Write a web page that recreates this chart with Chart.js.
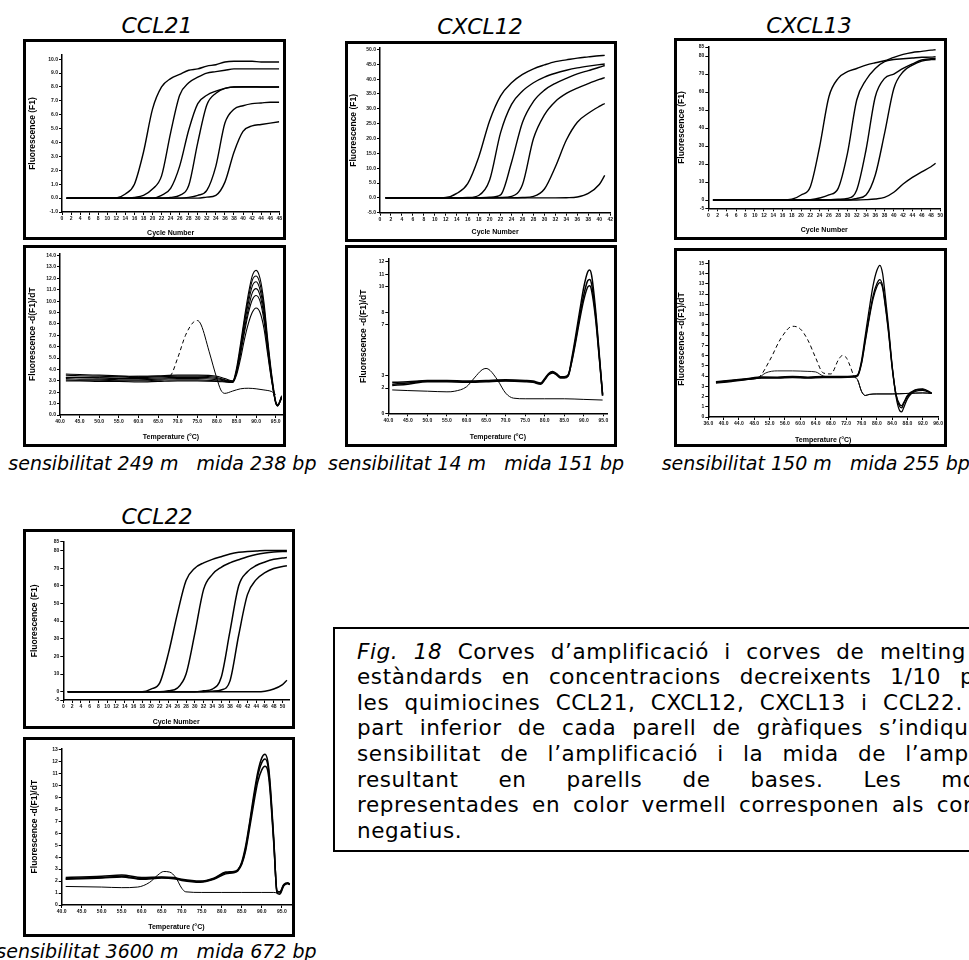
<!DOCTYPE html>
<html><head><meta charset="utf-8">
<script src="https://cdn.jsdelivr.net/npm/chart.js@4.4.1/dist/chart.umd.min.js"></script>
<style>
html,body{margin:0;padding:0;background:#fff;}
body{width:969px;height:960px;overflow:hidden;position:relative;font-family:"DejaVu Sans",Verdana,sans-serif;color:#000;}
.box{position:absolute;border:3px solid #000;box-sizing:border-box;background:#fff;}
.box canvas{display:block;}
.gene{position:absolute;font-style:italic;font-size:22px;line-height:1;white-space:nowrap;transform:translateX(-50%);}
.cap{position:absolute;font-style:italic;font-size:19px;line-height:1;white-space:pre;}
.note{position:absolute;left:333px;top:627px;width:700px;height:225px;border:2px solid #000;box-sizing:border-box;}
.ln{position:absolute;left:22px;font-size:21.5px;line-height:1;white-space:nowrap;letter-spacing:0.6px;}
</style></head>
<body>
<div class="gene" style="left:157px;top:15.4px">CCL21</div>
<div class="gene" style="left:480px;top:15.7px">CXCL12</div>
<div class="gene" style="left:809px;top:15.4px">CXCL13</div>
<div class="gene" style="left:157px;top:506.4px">CCL22</div>
<div class="cap" style="left:8.3px;top:453.9px">sensibilitat 249 m   mida 238 bp</div>
<div class="cap" style="left:328px;top:453.9px">sensibilitat 14 m   mida 151 bp</div>
<div class="cap" style="left:661.7px;top:453.9px">sensibilitat 150 m   mida 255 bp</div>
<div class="cap" style="left:-3.7px;top:941.9px">sensibilitat 3600 m   mida 672 bp</div>
<div class="note">
<div class="ln" style="top:11.5px;word-spacing:8px"><i>Fig. 18</i> Corves d’amplificació i corves de melting dels</div>
<div class="ln" style="top:37.1px;word-spacing:11.6px">estàndards en concentracions decreixents 1/10 per a</div>
<div class="ln" style="top:62.7px;word-spacing:7.9px">les quimiocines CCL21, CXCL12, CXCL13 i CCL22. A la</div>
<div class="ln" style="top:88.3px;word-spacing:8.7px">part inferior de cada parell de gràfiques s’indiquen la</div>
<div class="ln" style="top:113.9px;word-spacing:11.8px">sensibilitat de l’amplificació i la mida de l’amplicó</div>
<div class="ln" style="top:139.5px;word-spacing:32.6px">resultant en parells de bases. Les mostres</div>
<div class="ln" style="top:165.1px;word-spacing:5.3px">representades en color vermell corresponen als controls</div>
<div class="ln" style="top:190.7px">negatius.</div>
</div>
<script>
// ---------- CCL21 ----------
const ccl21AmpCycles = [1, 6, 10, 12, 14, 16, 18, 20, 22, 24, 26, 28, 30, 32, 34, 36, 38, 40, 42, 44, 46, 48];
const ccl21Amp1 = [0, 0, 0, 0.02, 0.3, 1.0, 3.3, 6.4, 8.0, 8.6, 8.9, 9.2, 9.3, 9.5, 9.6, 9.8, 9.85, 9.85, 9.85, 9.8, 9.8, 9.8];
const ccl21Amp2 = [0, 0, 0, 0, 0, 0.05, 0.2, 0.65, 1.6, 4.7, 7.4, 8.3, 8.7, 9.0, 9.1, 9.2, 9.3, 9.3, 9.3, 9.3, 9.3, 9.3];
const ccl21Amp3 = [0, 0, 0, 0, 0, 0, 0, 0, 0.2, 0.7, 2.3, 4.9, 6.8, 7.4, 7.7, 7.9, 8.0, 8.0, 8.0, 8.0, 8.0, 8.0];
const ccl21Amp4 = [0, 0, 0, 0, 0, 0, 0, 0, 0, 0.05, 0.2, 0.9, 4.0, 6.7, 7.55, 7.9, 8.0, 8.02, 8.02, 8.0, 8.0, 8.0];
const ccl21Amp5 = [0, 0, 0, 0, 0, 0, 0, 0, 0, 0, 0, 0.05, 0.2, 0.55, 2.3, 5.4, 6.4, 6.65, 6.8, 6.85, 6.9, 6.9];
const ccl21Amp6 = [0, 0, 0, 0, 0, 0, 0, 0, 0, 0, 0, 0, 0, 0.07, 0.2, 1.15, 3.3, 4.8, 5.2, 5.3, 5.4, 5.5];
const ccl21AmpXTicks = [0, 2, 4, 6, 8, 10, 12, 14, 16, 18, 20, 22, 24, 26, 28, 30, 32, 34, 36, 38, 40, 42, 44, 46, 48];
const ccl21AmpYTicks = [-1, 0, 1, 2, 3, 4, 5, 6, 7, 8, 9, 10];

const ccl21MeltTemps = [41.5, 45, 50, 55, 60, 65, 70, 75, 80, 82, 84, 85, 86, 87, 88, 89, 90, 91, 92, 93, 94, 95, 95.5, 96.5];
const ccl21Melt1 = [3.5, 3.45, 3.4, 3.35, 3.3, 3.35, 3.4, 3.4, 3.3, 3.1, 2.95, 4.1, 6.2, 8.5, 10.6, 12.2, 12.7, 12.0, 9.9, 6.5, 3.5, 1.2, 0.9, 1.7];
const ccl21Melt2 = [3.3, 3.3, 3.25, 3.2, 3.2, 3.25, 3.3, 3.3, 3.2, 3.05, 2.9, 3.9, 5.9, 8.2, 10.2, 11.8, 12.2, 11.5, 9.5, 6.2, 3.3, 1.1, 0.85, 1.6];
const ccl21Melt3 = [3.2, 3.15, 3.15, 3.1, 3.1, 3.15, 3.2, 3.2, 3.1, 3.0, 2.9, 3.8, 5.7, 7.9, 9.8, 11.3, 11.7, 11.0, 9.1, 6.0, 3.2, 1.1, 0.8, 1.5];
const ccl21Melt4 = [3.1, 3.05, 3.05, 3.0, 3.0, 3.05, 3.1, 3.1, 3.0, 2.95, 2.85, 3.7, 5.5, 7.5, 9.3, 10.7, 11.1, 10.5, 8.7, 5.8, 3.1, 1.0, 0.8, 1.5];
const ccl21Melt5 = [3.6, 3.55, 3.5, 3.45, 3.4, 3.45, 3.5, 3.5, 3.4, 3.2, 3.0, 3.7, 5.3, 7.2, 8.9, 10.1, 10.5, 10.0, 8.3, 5.5, 3.0, 1.1, 0.85, 1.6];
const ccl21Melt6 = [3.0, 3.0, 2.95, 2.95, 2.9, 2.95, 3.0, 3.0, 2.95, 2.9, 2.85, 3.5, 4.9, 6.6, 8.0, 9.0, 9.4, 9.0, 7.6, 5.2, 2.9, 1.1, 0.8, 1.5];
const ccl21MeltNegTemps = [41.5, 45, 50, 55, 60, 65, 68, 70, 72, 74, 75, 76, 78, 80, 81, 82, 84, 86, 88, 90, 92, 94, 95];
const ccl21MeltNeg = [3.3, 3.3, 3.3, 3.35, 3.4, 3.4, 3.45, 5.0, 7.0, 8.15, 8.3, 7.9, 5.6, 3.2, 2.2, 1.9, 2.1, 2.3, 2.35, 2.3, 2.2, 2.05, 1.8];
const ccl21MeltXTicks = [40, 45, 50, 55, 60, 65, 70, 75, 80, 85, 90, 95];
const ccl21MeltYTicks = [0, 1, 2, 3, 4, 5, 6, 7, 8, 9, 10, 11, 12, 13, 14];

// ---------- CXCL12 ----------
const cxcl12AmpCycles = [1, 6, 10, 12, 14, 16, 18, 20, 22, 24, 26, 28, 30, 32, 34, 36, 38, 40, 41];
const cxcl12Amp1 = [0, 0, 0, 0.1, 1.5, 4.8, 13.7, 26.0, 34.4, 38.8, 41.6, 43.5, 44.8, 45.9, 46.5, 47.1, 47.5, 47.9, 48.0];
const cxcl12Amp2 = [0, 0, 0, 0, 0, 0.1, 0.8, 6.0, 22.0, 31.5, 36.0, 38.8, 40.7, 42.0, 43.0, 43.8, 44.4, 44.9, 45.1];
const cxcl12Amp3 = [0, 0, 0, 0, 0, 0, 0.05, 0.2, 1.0, 12.0, 25.5, 32.5, 36.3, 38.6, 40.3, 41.8, 42.9, 44.0, 44.6];
const cxcl12Amp4 = [0, 0, 0, 0, 0, 0, 0, 0, 0.1, 0.5, 4.5, 20.0, 28.0, 32.5, 35.2, 37.0, 38.5, 39.9, 40.5];
const cxcl12Amp5 = [0, 0, 0, 0, 0, 0, 0, 0, 0, 0, 0.1, 0.5, 3.0, 10.5, 19.5, 25.5, 28.5, 30.8, 31.8];
const cxcl12Amp6 = [0, 0, 0, 0, 0, 0, 0, 0, 0, 0, 0, 0, 0, 0, 0.05, 0.3, 1.5, 4.5, 7.6];
const cxcl12AmpXTicks = [0, 2, 4, 6, 8, 10, 12, 14, 16, 18, 20, 22, 24, 26, 28, 30, 32, 34, 36, 38, 40, 42];
const cxcl12AmpYTicks = [-5, 0, 5, 10, 15, 20, 25, 30, 35, 40, 45, 50];

const cxcl12MeltTemps = [41, 45, 50, 55, 60, 65, 70, 75, 77, 79, 80, 81, 82, 83, 84, 85, 86, 87, 88, 89, 90, 91, 91.5, 92, 93, 94, 94.8];
const cxcl12Melt1 = [2.3, 2.4, 2.55, 2.55, 2.5, 2.55, 2.6, 2.55, 2.5, 2.35, 2.7, 3.1, 3.25, 3.1, 2.85, 2.85, 3.0, 4.5, 6.3, 8.2, 10.0, 11.2, 11.35, 10.9, 8.2, 4.5, 1.4];
const cxcl12Melt2 = [2.2, 2.3, 2.5, 2.5, 2.45, 2.5, 2.55, 2.5, 2.45, 2.3, 2.65, 3.05, 3.2, 3.05, 2.8, 2.8, 2.95, 4.3, 6.0, 7.8, 9.4, 10.5, 10.6, 10.2, 7.8, 4.3, 1.4];
const cxcl12Melt3 = [2.45, 2.5, 2.6, 2.6, 2.55, 2.6, 2.65, 2.6, 2.55, 2.4, 2.75, 3.15, 3.3, 3.15, 2.9, 2.9, 3.05, 4.2, 5.8, 7.5, 9.0, 10.0, 10.1, 9.7, 7.5, 4.2, 1.5];
const cxcl12MeltNegTemps = [41, 45, 50, 55, 57, 60, 62, 64, 65, 66, 68, 70, 72, 75, 80, 85, 90, 94.8];
const cxcl12MeltNeg = [1.85, 1.8, 1.75, 1.7, 1.75, 2.1, 2.8, 3.45, 3.55, 3.4, 2.6, 1.6, 1.2, 1.15, 1.15, 1.15, 1.1, 1.05];
const cxcl12MeltXTicks = [40, 45, 50, 55, 60, 65, 70, 75, 80, 85, 90, 95];
const cxcl12MeltYTicks = [0, 2, 3, 7, 8, 10, 11, 12];

// ---------- CXCL13 ----------
const cxcl13AmpCycles = [1, 6, 10, 14, 16, 18, 20, 22, 24, 26, 28, 30, 32, 34, 36, 38, 40, 42, 44, 46, 48, 49];
const cxcl13Amp1 = [0, 0, 0, 0, 0, 0.4, 2.8, 7.4, 29.6, 57.4, 67.6, 71.3, 73.1, 75, 76.3, 77.4, 79.3, 80.9, 82.0, 82.6, 83.3, 83.5];
const cxcl13Amp2 = [0, 0, 0, 0, 0, 0, 0, 0.2, 1.1, 2.8, 6.5, 25.9, 55.6, 66.7, 73.1, 76.9, 78.1, 78.5, 78.9, 79.3, 79.4, 79.6];
const cxcl13Amp3 = [0, 0, 0, 0, 0, 0, 0, 0, 0, 0.1, 0.4, 0.9, 5.6, 27.8, 57.4, 67.6, 70.0, 73.1, 75.6, 77.8, 78.5, 78.7];
const cxcl13Amp4 = [0, 0, 0, 0, 0, 0, 0, 0, 0, 0, 0, 0, 0.9, 2.8, 13.9, 37.0, 62.0, 71.3, 75.0, 77.2, 78.0, 78.1];
const cxcl13Amp5 = [0, 0, 0, 0, 0, 0, 0, 0, 0, 0, 0, 0, 0, 0.2, 0.6, 1.5, 4.3, 8.9, 12.6, 15.7, 18.5, 20.4];
const cxcl13AmpXTicks = [0, 2, 4, 6, 8, 10, 12, 14, 16, 18, 20, 22, 24, 26, 28, 30, 32, 34, 36, 38, 40, 42, 44, 46, 48, 50];
const cxcl13AmpYTicks = [-4.6, 0, 10, 20, 30, 40, 50, 60, 70, 80, 85];

const cxcl13MeltTemps = [38, 42, 46, 50, 54, 58, 62, 66, 70, 74, 75, 76, 77, 78, 79, 80, 80.8, 81.5, 82, 83, 84, 85, 86, 86.5, 87, 88, 90, 92, 94.3];
const cxcl13Melt1 = [3.4, 3.55, 3.7, 3.85, 3.85, 3.9, 3.85, 3.9, 3.9, 3.95, 4.1, 5.5, 8.0, 10.5, 12.8, 14.3, 14.8, 14.0, 12.5, 9.0, 5.0, 2.2, 1.0, 0.9, 1.3, 2.0, 2.6, 2.7, 2.3];
const cxcl13Melt2 = [3.45, 3.6, 3.75, 3.9, 3.9, 3.95, 3.9, 3.95, 3.95, 4.0, 4.1, 5.3, 7.6, 9.8, 11.8, 13.0, 13.4, 12.8, 11.6, 8.6, 4.9, 2.0, 0.6, 0.5, 0.9, 1.8, 2.5, 2.6, 2.3];
const cxcl13Melt3 = [3.3, 3.45, 3.65, 3.8, 3.8, 3.85, 3.8, 3.85, 3.85, 3.9, 4.0, 5.2, 7.4, 9.6, 11.5, 12.7, 13.1, 12.6, 11.4, 8.4, 4.8, 2.2, 1.2, 1.1, 1.4, 2.1, 2.65, 2.75, 2.35];
const cxcl13MeltNeg1Temps = [38, 42, 46, 49, 52, 55, 58, 60, 62, 64, 66, 68, 70, 71, 72, 73, 74, 75, 76, 77, 78, 80, 84, 88, 92, 94.3];
const cxcl13MeltNeg1 = [3.4, 3.55, 3.7, 3.85, 5.5, 7.7, 8.85, 8.6, 7.5, 5.8, 4.3, 4.2, 5.6, 6.0, 5.8, 5.0, 4.0, 3.6, 2.5, 2.1, 2.2, 2.25, 2.25, 2.3, 2.35, 2.3];
const cxcl13MeltNeg2Temps = [38, 46, 49, 51, 54, 58, 62, 64, 66, 68, 72, 74, 75, 76, 77, 78, 80, 84, 88, 92, 94.3];
const cxcl13MeltNeg2 = [3.35, 3.65, 3.8, 4.3, 4.5, 4.5, 4.45, 4.4, 4.0, 3.9, 3.9, 3.95, 3.6, 2.5, 2.1, 2.2, 2.25, 2.25, 2.3, 2.35, 2.3];
const cxcl13MeltXTicks = [36, 40, 44, 48, 52, 56, 60, 64, 68, 72, 76, 80, 84, 88, 92, 96];
const cxcl13MeltYTicks = [0, 1, 2, 3, 4, 5, 6, 7, 8, 9, 10, 11, 12, 13, 14, 15];

// ---------- CCL22 ----------
const ccl22AmpCycles = [1, 6, 10, 14, 18, 20, 22, 24, 26, 28, 30, 32, 34, 36, 38, 40, 42, 44, 46, 48, 50, 51];
const ccl22Amp1 = [0, 0, 0, 0, 0, 1.5, 5, 22, 44, 63, 70, 73, 75, 76.5, 78, 79, 79.5, 79.7, 80, 80, 80, 80];
const ccl22Amp2 = [0, 0, 0, 0, 0, 0, 0, 0.5, 2, 10, 33, 58, 66.5, 70.5, 73, 74.8, 76.5, 77.8, 78.6, 79.1, 79.4, 79.5];
const ccl22Amp3 = [0, 0, 0, 0, 0, 0, 0, 0, 0, 0, 0, 0.5, 1.5, 8, 34, 60, 68, 71.5, 73.5, 75, 75.8, 76];
const ccl22Amp4 = [0, 0, 0, 0, 0, 0, 0, 0, 0, 0, 0, 0, 0.3, 1, 6, 32, 55, 63.5, 67.5, 69.8, 71, 71.4];
const ccl22Amp5 = [0, 0, 0, 0, 0, 0, 0, 0, 0, 0, 0, 0, 0, 0, 0, 0, 0, 0, 0.3, 1.5, 4, 6.5];
const ccl22AmpXTicks = [0, 2, 4, 6, 8, 10, 12, 14, 16, 18, 20, 22, 24, 26, 28, 30, 32, 34, 36, 38, 40, 42, 44, 46, 48, 50];
const ccl22AmpYTicks = [-4.7, 0, 10, 20, 30, 40, 50, 60, 70, 80, 85];

const ccl22MeltTemps = [41, 45, 50, 55, 60, 65, 68, 70, 74.6, 78, 81, 83, 84, 85, 86, 87, 88, 89, 90, 90.8, 91.5, 92, 93, 93.8, 94.5, 95.5, 96.5, 97];
const ccl22Melt1 = [2.2, 2.25, 2.3, 2.4, 2.2, 2.3, 2.25, 2.1, 1.95, 2.2, 2.7, 2.75, 2.9, 3.6, 5.0, 7.0, 9.2, 11.1, 12.3, 12.6, 12.0, 10.5, 5.5, 1.0, 0.9, 1.6, 1.8, 1.7];
const ccl22Melt2 = [2.3, 2.35, 2.4, 2.5, 2.3, 2.35, 2.3, 2.15, 2.0, 2.25, 2.75, 2.8, 2.95, 3.5, 4.8, 6.8, 8.9, 10.8, 11.9, 12.2, 11.7, 10.2, 5.3, 1.1, 1.0, 1.7, 1.85, 1.75];
const ccl22Melt3 = [2.15, 2.2, 2.25, 2.35, 2.15, 2.25, 2.2, 2.05, 1.9, 2.15, 2.6, 2.7, 2.85, 3.4, 4.6, 6.5, 8.5, 10.3, 11.3, 11.6, 11.2, 9.8, 5.1, 1.2, 1.1, 1.7, 1.8, 1.7];
const ccl22MeltNegTemps = [41, 50, 55, 59, 62, 64, 65.5, 67, 68.5, 70, 71, 75, 80, 85, 90, 93, 94];
const ccl22MeltNeg = [1.55, 1.5, 1.45, 1.5, 1.9, 2.5, 2.8, 2.75, 2.3, 1.4, 1.1, 1.05, 1.05, 1.05, 1.05, 1.05, 1.0];
const ccl22MeltXTicks = [40, 45, 50, 55, 60, 65, 70, 75, 80, 85, 90, 95];
const ccl22MeltYTicks = [0, 1, 2, 3, 4, 5, 6, 7, 8, 9, 10, 11, 12, 13];

// ---------- rendering ----------
Chart.defaults.color = '#000';
const pts = (xs, ys) => xs.map((x, i) => ({x: x, y: ys[i]}));
const curve = (xs, ys, w) => ({data: pts(xs, ys), borderWidth: w, borderColor: '#000'});
const dashed = (xs, ys, a, b) => ({
  data: pts(xs, ys), borderWidth: 1, borderColor: '#000',
  segment: {borderDash: c => (c.p0.parsed.x >= a && c.p1.parsed.x <= b) ? [4, 3] : undefined}
});
const AMP_Y = 'Fluorescence (F1)', MELT_Y = 'Fluorescence -d(F1)/dT';
const AMP_X = 'Cycle Number', MELT_X = 'Temperature (\u00B0C)';
const i0 = v => String(Math.round(v));
const f1 = v => v.toFixed(1);

const panels = [
  {box:[23,39,263,201], plot:{l:36,r:256.7,t:13,b:170}, x:[0,48,ccl21AmpXTicks,i0], y:[-1,10.3,ccl21AmpYTicks,f1], xt:AMP_X, yt:AMP_Y, yp:1.9, xp:0,
   sets:[ccl21Amp1,ccl21Amp2,ccl21Amp3,ccl21Amp4,ccl21Amp5,ccl21Amp6].map(s=>curve(ccl21AmpCycles,s,1.4))},
  {box:[23,245,263,202], plot:{l:34,r:256,t:5.3,b:167}, x:[40,96.6,ccl21MeltXTicks,f1], y:[0,14.2,ccl21MeltYTicks,f1], xt:MELT_X, yt:MELT_Y, yp:1.9, xp:2.5,
   sets:[ccl21Melt1,ccl21Melt2,ccl21Melt3,ccl21Melt4,ccl21Melt5,ccl21Melt6].map(s=>curve(ccl21MeltTemps,s,1.1)).concat([dashed(ccl21MeltNegTemps,ccl21MeltNeg,67,75.5)])},
  {box:[345,41,272,201], plot:{l:32,r:263.7,t:2.7,b:168.7}, x:[0,42,cxcl12AmpXTicks,i0], y:[-5,50.5,cxcl12AmpYTicks,f1], xt:AMP_X, yt:AMP_Y, yp:0.2, xp:3,
   sets:[cxcl12Amp1,cxcl12Amp2,cxcl12Amp3,cxcl12Amp4,cxcl12Amp5,cxcl12Amp6].map(s=>curve(cxcl12AmpCycles,s,1.4))},
  {box:[345,245,272,202], plot:{l:40.3,r:259.3,t:11.2,b:165.3}, x:[40,96,cxcl12MeltXTicks,f1], y:[0,12.2,cxcl12MeltYTicks,i0], xt:MELT_X, yt:MELT_Y, yp:10.2, xp:2.8,
   sets:[cxcl12Melt1,cxcl12Melt2,cxcl12Melt3].map(s=>curve(cxcl12MeltTemps,s,1.5)).concat([curve(cxcl12MeltNegTemps,cxcl12MeltNeg,1)])},
  {box:[674,38,273,202], plot:{l:31.3,r:264.7,t:5.7,b:167.3}, x:[0,50,cxcl13AmpXTicks,i0], y:[-4.6,85.2,cxcl13AmpYTicks,i0], xt:AMP_X, yt:AMP_Y, yp:0, xp:2.8,
   sets:[cxcl13Amp1,cxcl13Amp2,cxcl13Amp3,cxcl13Amp4,cxcl13Amp5].map(s=>curve(cxcl13AmpCycles,s,1.4))},
  {box:[674,248,273,199], plot:{l:31.3,r:263,t:10.2,b:166}, x:[36,96,cxcl13MeltXTicks,f1], y:[0,15.2,cxcl13MeltYTicks,i0], xt:MELT_X, yt:MELT_Y, yp:0, xp:0,
   sets:[cxcl13Melt1,cxcl13Melt2,cxcl13Melt3].map(s=>curve(cxcl13MeltTemps,s,1.3)).concat([dashed(cxcl13MeltNeg1Temps,cxcl13MeltNeg1,48,75), curve(cxcl13MeltNeg2Temps,cxcl13MeltNeg2,0.9)])},
  {box:[23,529,272,200], plot:{l:37.3,r:263.1,t:9.7,b:168}, x:[0,51.5,ccl22AmpXTicks,i0], y:[-4.7,85,ccl22AmpYTicks,i0], xt:AMP_X, yt:AMP_Y, yp:3.9, xp:0,
   sets:[ccl22Amp1,ccl22Amp2,ccl22Amp3,ccl22Amp4,ccl22Amp5].map(s=>curve(ccl22AmpCycles,s,1.5))},
  {box:[23,737,272,200], plot:{l:35.7,r:265,t:8.3,b:165}, x:[40,97.3,ccl22MeltXTicks,f1], y:[0,13.1,ccl22MeltYTicks,i0], xt:MELT_X, yt:MELT_Y, yp:3.9, xp:2.5,
   sets:[ccl22Melt1,ccl22Melt2,ccl22Melt3].map(s=>curve(ccl22MeltTemps,s,1.5)).concat([curve(ccl22MeltNegTemps,ccl22MeltNeg,1)])}
];

const tickFont = {family: '"Liberation Sans", Arial, sans-serif', size: 5, weight: 'bold'};
function axis(min, max, ticks, fmt, title, titleFont, titlePad, fitFn) {
  return {
    type: 'linear', min: min, max: max,
    afterBuildTicks: s => { s.ticks = ticks.map(v => ({value: v})); },
    afterFit: fitFn,
    ticks: {autoSkip: false, maxRotation: 0, minRotation: 0, padding: 1, color: '#111', font: tickFont, callback: v => fmt(v)},
    grid: {display: true, drawOnChartArea: false, drawTicks: true, tickLength: 3, color: '#000', lineWidth: 1},
    border: {display: true, color: '#000', width: 1.5},
    title: {display: true, text: title, color: '#000', font: titleFont, padding: titlePad}
  };
}

panels.forEach(p => {
  const [bx, by, bw, bh] = p.box;
  const div = document.createElement('div');
  div.className = 'box';
  div.style.left = bx + 'px'; div.style.top = by + 'px';
  div.style.width = bw + 'px'; div.style.height = bh + 'px';
  const cw = bw - 6, ch = bh - 6;
  const cv = document.createElement('canvas');
  cv.width = cw; cv.height = ch;
  cv.style.width = cw + 'px'; cv.style.height = ch + 'px';
  div.appendChild(cv);
  document.body.appendChild(div);
  new Chart(cv, {
    type: 'line',
    data: {datasets: p.sets},
    options: {
      responsive: false, animation: false, events: [],
      layout: {autoPadding: false, padding: {left: 0, top: p.plot.t, right: cw - p.plot.r, bottom: 0}},
      plugins: {legend: {display: false}, tooltip: {enabled: false}},
      elements: {point: {radius: 0}, line: {cubicInterpolationMode: 'monotone', borderColor: '#000'}},
      scales: {
        x: axis(p.x[0], p.x[1], p.x[2], p.x[3], p.xt,
                {family: '"Liberation Sans", Arial, sans-serif', size: 7, weight: 'bold'},
                {top: 0, bottom: p.xp}, s => { s.height = ch - p.plot.b; }),
        y: axis(p.y[0], p.y[1], p.y[2], p.y[3], p.yt,
                {family: '"Liberation Sans", Arial, sans-serif', size: 8.5, weight: 'bold'},
                {top: p.yp, bottom: 0}, s => { s.width = p.plot.l; })
      }
    }
  });
});
</script>
</body></html>
